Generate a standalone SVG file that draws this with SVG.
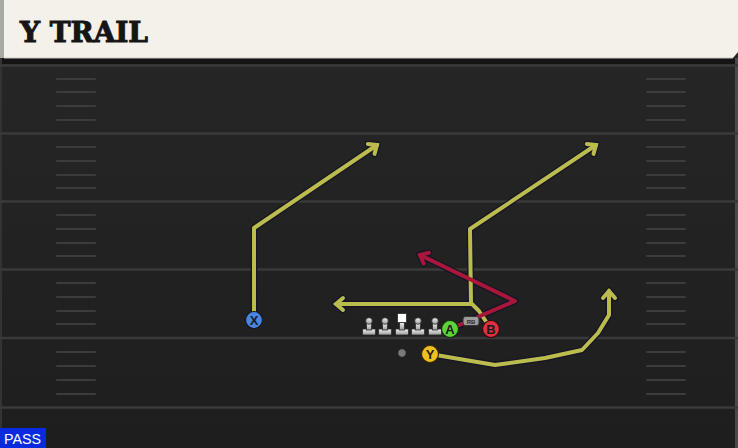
<svg xmlns="http://www.w3.org/2000/svg" xmlns:xlink="http://www.w3.org/1999/xlink" width="738" height="448" viewBox="0 0 738 448">
<style>
.yl{stroke:#3a3a3a;stroke-width:2.5}
.hs{stroke:#3c3c3c;stroke-width:2;stroke-linecap:round}
.rt{fill:none;stroke-linejoin:round;stroke-linecap:round}
.ol{stroke:#151526;stroke-width:6.5}
.ye{stroke:#bcbc4e;stroke-width:4}
.rd{stroke:#a8173a;stroke-width:4}
.yo{marker-end:url(#ao)}
.yf{marker-end:url(#ay)}
.ro{marker-end:url(#ao)}
.rf{marker-end:url(#ar)}
.lbl{font-family:"Liberation Sans",Arial,sans-serif;font-weight:bold;text-anchor:middle;fill:#1b1b1b}
</style>
<defs>
<linearGradient id="bg" x1="0" y1="0" x2="0" y2="1">
<stop offset="0" stop-color="#272727"/>
<stop offset="1" stop-color="#1e1e1e"/>
</linearGradient>
<linearGradient id="lm" x1="0" y1="0" x2="0" y2="1">
<stop offset="0" stop-color="#f2f2f2"/>
<stop offset="1" stop-color="#9a9a9a"/>
</linearGradient>
<marker id="ay" markerUnits="userSpaceOnUse" viewBox="-10 -10 20 20" markerWidth="20" markerHeight="20" refX="0" refY="0" orient="auto" overflow="visible">
<path d="M-7,-6 L0,0 L-7,6" fill="none" stroke="#bcbc4e" stroke-width="4" stroke-linecap="round" stroke-linejoin="miter"/>
</marker>
<marker id="ar" markerUnits="userSpaceOnUse" viewBox="-10 -10 20 20" markerWidth="20" markerHeight="20" refX="0" refY="0" orient="auto" overflow="visible">
<path d="M-7,-6 L0,0 L-7,6" fill="none" stroke="#a8173a" stroke-width="4" stroke-linecap="round" stroke-linejoin="miter"/>
</marker>
<marker id="ao" markerUnits="userSpaceOnUse" viewBox="-10 -10 20 20" markerWidth="20" markerHeight="20" refX="0" refY="0" orient="auto" overflow="visible">
<path d="M-7,-6 L0,0 L-7,6" fill="none" stroke="#151526" stroke-width="6.5" stroke-linecap="round" stroke-linejoin="miter"/>
</marker>
<path id="rX" d="M254,320 L254,228 L377,145"/>
<path id="rB1" d="M491,329 L479,311 L471,303 L470,229 L596,145"/>
<path id="rB2" d="M471,304 L336,304"/>
<path id="rY" d="M430,354 L495,365 L545,358 L582,350 L598,333 L609,315 L609,291"/>
<path id="rA" d="M450,329 L515,301 L420,255"/>
<g id="lineman">
<rect x="-6.5" y="-6" width="13" height="6" rx="1" fill="url(#lm)" stroke="#2a2a2a" stroke-width="0.8"/>
<rect x="-2.5" y="-12" width="5" height="7" fill="url(#lm)" stroke="#2a2a2a" stroke-width="0.8"/>
<circle cx="0" cy="-14" r="3.3" fill="url(#lm)" stroke="#2a2a2a" stroke-width="0.8"/>
</g>
</defs>

<!-- field -->
<rect x="0" y="0" width="738" height="448" fill="url(#bg)"/>
<rect x="0" y="58" width="738" height="6" fill="#141414"/>
<rect x="0" y="58" width="2" height="390" fill="#333"/>
<rect x="735" y="58" width="3" height="390" fill="#4a4a4a"/>
<g id="yardlines">
<line class="yl" x1="0" y1="65.5" x2="738" y2="65.5"/>
<line class="yl" x1="0" y1="133.5" x2="738" y2="133.5"/>
<line class="yl" x1="0" y1="201.5" x2="738" y2="201.5"/>
<line class="yl" x1="0" y1="269.5" x2="738" y2="269.5"/>
<line class="yl" x1="0" y1="338" x2="738" y2="338"/>
<line class="yl" x1="0" y1="407.5" x2="738" y2="407.5"/>
</g>
<g id="hashes">
<path class="hs" d="M57,79H95M57,92H95M57,106H95M57,120H95M57,147H95M57,161H95M57,175H95M57,188H95M57,215H95M57,229H95M57,243H95M57,256H95M57,283H95M57,297H95M57,311H95M57,324H95M57,352H95M57,366H95M57,380H95M57,394H95"/>
<path class="hs" d="M647,79H685M647,92H685M647,106H685M647,120H685M647,147H685M647,161H685M647,175H685M647,188H685M647,215H685M647,229H685M647,243H685M647,256H685M647,283H685M647,297H685M647,311H685M647,324H685M647,352H685M647,366H685M647,380H685M647,394H685"/>
</g>

<!-- header -->
<g id="header">
<path d="M0,0 H738 V52 L733,58 H0 Z" fill="#f4f1ea"/>
<rect x="0" y="0" width="4" height="58" fill="#a9a9a3"/>
<line x1="4" y1="58" x2="733" y2="58" stroke="#c9c6bd" stroke-width="1"/>
<text x="20" y="42" font-family="'DejaVu Serif',serif" font-weight="bold" font-size="27" fill="#151515" stroke="#151515" stroke-width="1" textLength="128" lengthAdjust="spacingAndGlyphs">Y TRAIL</text>
</g>

<!-- connectors -->
<g id="connectors" class="rt">
<use xlink:href="#rX" class="ol yo"/>
<use xlink:href="#rB1" class="ol yo"/>
<use xlink:href="#rB2" class="ol yo"/>
<use xlink:href="#rY" class="ol yo"/>
<use xlink:href="#rA" class="ol ro"/>
<use xlink:href="#rX" class="ye yf"/>
<use xlink:href="#rB1" class="ye yf"/>
<use xlink:href="#rB2" class="ye yf"/>
<use xlink:href="#rY" class="ye yf"/>
<use xlink:href="#rA" class="rd rf"/>
</g>

<!-- offensive line -->
<g id="LT"><use xlink:href="#lineman" x="369" y="335"/></g>
<g id="LG"><use xlink:href="#lineman" x="385" y="335"/></g>
<g id="C">
<rect x="395.5" y="329" width="13" height="6" rx="1" fill="url(#lm)" stroke="#2a2a2a" stroke-width="0.8"/>
<rect x="399.5" y="322" width="5" height="8" fill="url(#lm)" stroke="#2a2a2a" stroke-width="0.8"/>
<rect x="397.5" y="313.5" width="9" height="9" fill="#ffffff" stroke="#2a2a2a" stroke-width="0.8"/>
</g>
<g id="RG"><use xlink:href="#lineman" x="418" y="335"/></g>
<g id="RT"><use xlink:href="#lineman" x="435" y="335"/></g>

<g id="QB"><circle cx="402" cy="353" r="4.2" fill="#7a7a7a" stroke="#1a1a1a" stroke-width="0.8"/></g>

<g id="RB">
<rect x="463" y="316.5" width="16" height="9" rx="2.5" fill="#9c9c9c" stroke="#333" stroke-width="1"/>
<text x="471" y="323.6" font-family="'Liberation Sans',Arial,sans-serif" font-weight="bold" font-size="6" text-anchor="middle" fill="#2a2a2a">RB</text>
</g>

<g id="X">
<circle cx="254" cy="320" r="8.5" fill="#4a86e0" stroke="#101828" stroke-width="1.2"/>
<text x="254" y="325" class="lbl" font-size="13">X</text>
</g>
<g id="A">
<circle cx="450" cy="329" r="8.5" fill="#5fd23a" stroke="#12300a" stroke-width="1.2"/>
<text x="450" y="334" class="lbl" font-size="13">A</text>
</g>
<g id="B">
<circle cx="491" cy="329" r="8.5" fill="#e0303f" stroke="#350a10" stroke-width="1.2"/>
<text x="491" y="334" class="lbl" font-size="13">B</text>
</g>
<g id="Y">
<circle cx="430" cy="354" r="8.5" fill="#f0c020" stroke="#352a05" stroke-width="1.2"/>
<text x="430" y="359" class="lbl" font-size="13">Y</text>
</g>

<g id="pass">
<rect x="0" y="428" width="46" height="20" fill="#0a2ae0"/>
<text x="4" y="443.5" font-family="'Liberation Sans',Arial,sans-serif" font-size="15" fill="#ffffff" textLength="37" lengthAdjust="spacingAndGlyphs">PASS</text>
</g>
</svg>
